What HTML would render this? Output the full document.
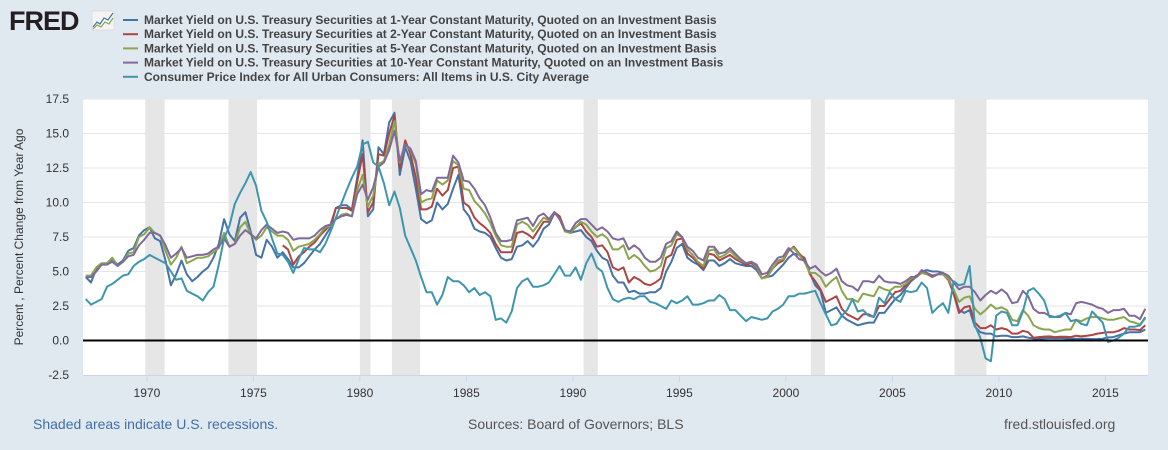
<!DOCTYPE html>
<html><head><meta charset="utf-8">
<style>
html,body{margin:0;padding:0;background:#e1e9f0;}
body{width:1168px;height:450px;overflow:hidden;position:relative;font-family:"Liberation Sans",sans-serif;}
</style></head>
<body>
<svg id="chart" width="1168" height="450" xmlns="http://www.w3.org/2000/svg" style="position:absolute;left:0;top:0">
  <g>
    <text x="9" y="30" font-family="Liberation Sans, sans-serif" font-weight="bold" font-size="27" fill="#231f20" letter-spacing="-1">FRED</text>
    <rect x="92" y="11" width="22" height="19" fill="#f4f4f4" stroke="#ccc" stroke-width="0.5"/>
    <polyline points="93,27 97,22 100,24 104,18 108,20 113,13" fill="none" stroke="#4572a7" stroke-width="1.2"/>
    <polyline points="93,29 97,25 101,27 105,22 109,24 113,18" fill="none" stroke="#89a54e" stroke-width="1.2"/>
  </g>
  <g id="legend"></g>
  <rect x="83" y="99" width="1065" height="276" fill="#ffffff"/>
  <g id="rec"></g>
  <g id="grid"></g>
  <g id="series"></g>
  <g id="axes"></g>
  <text transform="translate(23,237) rotate(-90)" text-anchor="middle" font-size="12" fill="#333">Percent , Percent Change from Year Ago</text>
  <text x="33" y="429" font-size="14" fill="#3e6fa8">Shaded areas indicate U.S. recessions.</text>
  <text x="468" y="429" font-size="14" fill="#555">Sources: Board of Governors; BLS</text>
  <text x="1004" y="429" font-size="14" fill="#555">fred.stlouisfed.org</text>
</svg>
<script>
const yTicks=[-2.5,0,2.5,5,7.5,10,12.5,15,17.5];
const xTicks=[1970,1975,1980,1985,1990,1995,2000,2005,2010,2015];
const recessions=[[1969.92,1970.83],[1973.83,1975.17],[1980.0,1980.5],[1981.5,1982.83],[1990.5,1991.17],[2001.17,2001.83],[2007.92,2009.42]];
const startYear=1967;
const legendLabels=["Market Yield on U.S. Treasury Securities at 1-Year Constant Maturity, Quoted on an Investment Basis","Market Yield on U.S. Treasury Securities at 2-Year Constant Maturity, Quoted on an Investment Basis","Market Yield on U.S. Treasury Securities at 5-Year Constant Maturity, Quoted on an Investment Basis","Market Yield on U.S. Treasury Securities at 10-Year Constant Maturity, Quoted on an Investment Basis","Consumer Price Index for All Urban Consumers: All Items in U.S. City Average"];
const colors=["#4572a7","#aa4643","#89a54e","#80699b","#3d96ae"];
const gs1=[4.6,4.2,5.2,5.5,5.6,5.9,5.5,5.8,6.5,6.7,7.6,8.0,8.2,7.4,7.2,5.8,4.0,4.8,5.8,4.8,4.3,4.6,5.0,5.3,6.0,7.0,8.8,7.7,7.2,8.9,9.3,7.9,6.2,6.0,7.3,6.8,6.0,6.4,5.9,5.3,5.3,5.6,6.1,6.6,7.0,7.6,8.2,9.6,9.8,9.8,9.5,11.8,14.5,9.0,9.5,14.0,13.5,15.8,16.5,12.0,14.0,13.0,11.0,8.8,8.5,8.7,10.0,9.5,9.9,11.0,12.0,9.5,9.0,8.1,7.9,7.8,7.5,6.7,6.0,5.8,5.9,6.8,6.9,7.2,6.8,7.3,8.1,8.4,9.2,9.0,8.0,7.8,7.9,8.0,7.5,7.2,6.5,6.0,5.8,4.7,4.2,4.2,3.5,3.6,3.4,3.4,3.5,3.5,3.8,5.0,5.7,6.7,7.0,6.0,5.7,5.5,5.1,5.8,5.8,5.4,5.6,5.9,5.6,5.5,5.4,5.4,5.1,4.5,4.6,4.7,5.1,5.5,6.0,6.3,6.2,6.0,4.9,4.0,3.6,2.0,2.2,2.4,1.8,1.5,1.3,1.1,1.2,1.3,1.3,2.0,2.0,2.5,3.0,3.3,3.8,4.3,4.6,5.0,5.1,5.0,5.0,4.9,4.5,3.5,2.2,2.0,2.2,1.0,0.6,0.5,0.5,0.3,0.35,0.35,0.25,0.25,0.3,0.2,0.15,0.12,0.15,0.18,0.17,0.18,0.15,0.12,0.13,0.12,0.12,0.1,0.11,0.13,0.22,0.25,0.38,0.5,0.6,0.6,0.6,0.8];
const gs2=[null,null,null,null,null,null,null,null,null,null,null,null,null,null,null,null,null,null,null,null,null,null,null,null,null,null,null,null,null,null,null,null,null,null,null,null,null,6.9,6.6,5.5,6.1,6.4,6.8,7.1,7.6,8.0,8.4,9.6,9.6,9.6,9.4,11.5,13.5,9.3,10.0,13.5,13.4,15.0,16.3,12.5,14.5,13.5,11.8,9.5,9.5,9.7,11.0,10.5,10.9,12.5,12.6,10.0,9.7,8.9,8.5,8.2,7.8,7.0,6.4,6.4,6.4,7.8,7.9,7.7,7.4,8.0,8.6,8.6,9.3,9.0,8.0,7.8,8.2,8.5,7.9,7.5,6.8,6.9,6.4,5.3,5.1,5.3,4.2,4.6,4.4,4.1,4.0,4.2,4.5,6.0,6.2,7.3,7.4,6.3,6.0,5.6,5.2,6.3,6.2,5.8,6.0,6.2,5.9,5.7,5.5,5.6,5.3,4.5,4.7,5.2,5.6,5.8,6.5,6.8,6.3,5.9,4.8,4.3,3.7,2.8,3.0,3.2,2.3,1.9,1.7,1.5,1.9,1.9,1.7,2.5,2.5,3.0,3.5,3.6,4.0,4.4,4.7,4.9,4.9,4.7,4.8,4.8,4.4,3.4,2.0,2.4,2.5,1.3,0.9,0.9,1.1,0.8,0.9,0.8,0.5,0.5,0.7,0.6,0.2,0.25,0.28,0.3,0.25,0.27,0.27,0.25,0.35,0.3,0.35,0.4,0.5,0.55,0.6,0.6,0.7,0.9,0.8,0.8,0.75,1.1];
const gs5=[4.7,4.7,5.3,5.6,5.6,6.0,5.4,5.7,6.3,6.4,7.5,7.7,8.2,7.8,7.6,6.5,5.5,6.0,6.8,5.6,5.8,6.0,6.0,6.1,6.4,6.7,7.8,6.8,7.0,8.2,8.6,7.7,7.3,7.6,8.2,7.9,7.6,7.6,7.3,6.5,6.8,6.9,7.0,7.3,7.7,8.2,8.3,8.8,9.1,9.2,9.0,10.9,12.0,9.7,10.5,12.8,13.0,14.2,15.9,12.9,14.2,13.8,12.8,10.0,10.2,10.3,11.6,11.3,11.6,13.0,12.7,11.0,10.9,10.1,9.7,9.2,8.5,7.6,6.9,6.8,6.8,8.4,8.6,8.4,7.9,8.4,8.9,8.7,9.3,8.8,7.9,7.8,8.2,8.6,8.4,7.9,7.5,7.7,7.4,6.6,6.6,6.9,5.9,6.2,5.9,5.4,5.0,5.1,5.4,6.7,6.9,7.7,7.5,6.6,6.2,5.7,5.4,6.5,6.6,6.0,6.2,6.5,6.1,5.8,5.6,5.7,5.4,4.5,4.6,5.2,5.8,5.9,6.6,6.7,6.2,5.7,4.9,4.9,4.6,3.9,4.3,4.6,3.6,3.0,3.0,2.8,3.4,3.3,3.2,3.9,3.7,3.6,3.9,3.9,4.1,4.5,4.6,4.9,4.8,4.6,4.8,4.8,4.5,3.7,2.8,3.1,3.2,2.3,1.9,2.2,2.6,2.3,2.4,2.2,1.5,1.4,2.2,1.8,1.1,0.9,0.8,0.8,0.6,0.7,0.8,0.8,1.5,1.4,1.6,1.7,1.7,1.6,1.5,1.5,1.6,1.7,1.4,1.3,1.15,1.6];
const gs10=[4.6,4.6,5.0,5.5,5.5,5.7,5.4,5.7,6.1,6.2,6.9,7.3,7.8,7.8,7.6,6.9,6.0,6.3,6.7,6.0,6.1,6.2,6.2,6.3,6.6,6.8,7.4,6.8,7.0,7.6,8.0,7.7,7.4,8.0,8.4,8.1,7.8,7.9,7.8,7.3,7.4,7.4,7.4,7.6,8.0,8.3,8.4,8.8,9.0,9.1,9.0,10.6,11.3,10.2,11.1,12.6,12.9,13.8,15.2,13.0,14.2,13.9,13.0,10.6,10.9,10.8,11.8,11.8,11.8,13.4,12.9,11.6,11.5,11.0,10.3,9.8,8.9,7.8,7.2,7.2,7.3,8.7,8.8,8.9,8.3,9.0,9.2,8.8,9.3,8.8,8.0,7.9,8.5,8.8,8.8,8.4,8.0,8.2,7.9,7.4,7.3,7.4,6.6,6.9,6.6,6.0,5.7,5.7,6.0,7.0,7.2,7.9,7.5,6.8,6.5,6.0,5.8,6.8,6.8,6.3,6.4,6.7,6.3,5.9,5.6,5.7,5.5,4.8,4.9,5.5,6.0,6.1,6.7,6.3,5.9,5.8,5.2,5.4,5.0,4.7,4.9,5.2,4.3,4.0,3.9,3.6,4.3,4.3,4.2,4.7,4.3,4.2,4.2,4.1,4.3,4.6,4.6,5.1,4.9,4.6,4.8,4.9,4.7,4.2,3.7,3.9,3.9,3.5,2.9,3.3,3.6,3.4,3.7,3.4,2.7,2.8,3.6,3.2,2.3,2.0,2.0,1.8,1.7,1.7,2.0,1.9,2.7,2.8,2.7,2.6,2.4,2.3,2.0,2.2,2.2,2.3,1.8,1.8,1.55,2.3];
const cpi=[3.0,2.6,2.8,3.0,3.9,4.1,4.4,4.7,4.8,5.4,5.7,5.9,6.2,6.0,5.8,5.6,5.0,4.4,4.5,3.6,3.4,3.2,2.9,3.5,3.9,5.5,7.4,8.3,9.9,10.7,11.4,12.2,11.2,9.4,8.6,7.4,6.3,6.2,5.7,4.9,5.9,6.7,6.6,6.6,6.4,7.0,7.9,8.9,9.9,10.9,11.8,12.6,14.2,14.4,12.9,12.6,11.4,9.8,10.8,9.6,7.6,6.7,5.8,4.6,3.5,3.5,2.6,3.3,4.6,4.3,4.3,4.0,3.5,3.8,3.3,3.5,3.2,1.5,1.6,1.3,2.1,3.8,4.3,4.5,3.9,3.9,4.0,4.2,4.8,5.4,4.7,4.7,5.3,4.4,5.6,6.3,5.3,5.0,3.8,3.0,2.8,3.0,3.1,3.0,3.2,3.2,2.8,2.7,2.5,2.3,2.9,2.7,2.9,3.2,2.6,2.6,2.7,2.9,2.9,3.3,3.0,2.2,2.2,1.8,1.4,1.7,1.6,1.5,1.6,2.1,2.3,2.6,3.2,3.2,3.4,3.4,3.5,3.6,2.7,1.9,1.1,1.2,1.8,2.2,3.0,2.1,2.2,1.8,1.7,3.1,2.7,3.5,3.0,2.8,3.6,3.5,3.6,4.2,3.8,2.0,2.4,2.7,2.0,4.3,4.0,4.1,5.4,1.1,0.2,-1.3,-1.5,1.8,2.1,2.0,1.1,1.1,2.1,3.6,3.8,3.4,2.9,1.7,1.7,1.8,2.0,1.4,1.5,1.2,1.1,2.1,1.7,1.3,-0.1,0.0,0.2,0.5,1.0,1.0,1.1,1.7];

const NS="http://www.w3.org/2000/svg";
const L=83,R=1148,T=99,B=375,y0=1967,y1=2017,vmin=-2.5,vmax=17.5;
function xs(t){return L+(t-y0)/(y1-y0)*(R-L);}
function ys(v){return B-(v-vmin)/(vmax-vmin)*(B-T);}
function mk(tag,attrs,parent){const e=document.createElementNS(NS,tag);for(const k in attrs)e.setAttribute(k,attrs[k]);parent.appendChild(e);return e;}

const rec=document.getElementById('rec');
recessions.forEach(r=>{
  const e=mk('rect',{x:xs(r[0]),y:T,width:xs(r[1])-xs(r[0]),height:B-T,fill:'#e6e6e6'},rec);
  
  
});
const grid=document.getElementById('grid');
const axes=document.getElementById('axes');
yTicks.forEach(v=>{
  if(v!==0&&v!==vmin){const g=mk('line',{x1:L,x2:R,y1:ys(v),y2:ys(v),stroke:'#e6e6e6','stroke-width':1},grid);
  
  }
  const t=mk('text',{x:69,y:ys(v)+4,'text-anchor':'end','font-size':12,fill:'#333'},axes);
  t.textContent=v.toFixed(1);
  
  
});
const base=mk('line',{x1:L,x2:R,y1:B+0.5,y2:B+0.5,stroke:'#ccd6eb','stroke-width':1},axes);


xTicks.forEach(yr=>{
  const x=xs(yr);
  mk('line',{x1:x,x2:x,y1:B,y2:B+7,stroke:'#ccd6eb'},axes);
  const t=mk('text',{x:x,y:B+22,'text-anchor':'middle','font-size':12,fill:'#333'},axes);
  t.textContent=String(yr);
  
  
});

const seriesG=document.getElementById('series');
const allSeries=[gs1,gs2,gs5,gs10,cpi];
const seriesNames=['series-1-year','series-2-year','series-5-year','series-10-year','series-cpi'];
allSeries.forEach((arr,si)=>{
  let d='',pen=false;
  arr.forEach((v,i)=>{
    if(v===null){pen=false;return;}
    const t=startYear+0.125+i*0.25;
    d+=(pen?'L':'M')+xs(t).toFixed(1)+','+ys(v).toFixed(1);
    pen=true;
  });
  const p=mk('path',{d:d,fill:'none',stroke:colors[si],'stroke-width':2,'stroke-linejoin':'round'},seriesG);
  
  
});
const zl=mk('line',{x1:L,x2:R,y1:ys(0),y2:ys(0),stroke:'#000','stroke-width':2},seriesG);



const lg=document.getElementById('legend');
legendLabels.forEach((lab,i)=>{
  const y=20+i*14.2;
  const g=mk('g',{},lg);
  
  
  mk('line',{x1:123,x2:138,y1:y,y2:y,stroke:colors[i],'stroke-width':2},g);
  const t=mk('text',{x:144,y:y+4,'font-size':12,'font-weight':'bold',fill:'#444'},g);
  t.textContent=lab;
});
</script>
</body></html>
